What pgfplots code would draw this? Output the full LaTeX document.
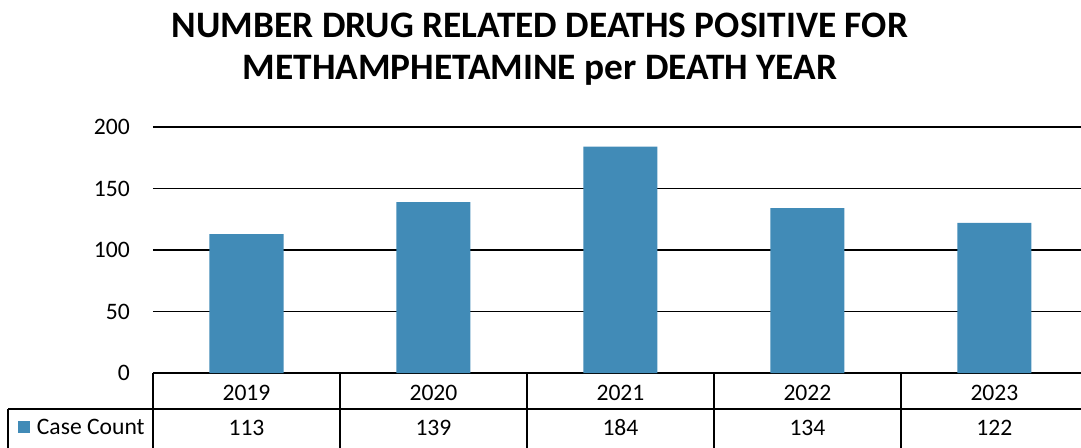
\documentclass[border=0pt]{standalone}
\usepackage{fontspec}
\setmainfont{Carlito}
\usepackage{pgfplots}
\usepackage{pgfplotstable}
\pgfplotsset{compat=1.18}
\definecolor{barblue}{RGB}{65,139,183}

\pgfplotstableread{
idx year count
0 2019 113
1 2020 139
2 2021 184
3 2022 134
4 2023 122
}\deathdata

\begin{document}
\begin{tikzpicture}
\begin{axis}[
  at={(0,0)}, anchor=south west, scale only axis,
  width=696pt, height=184.5pt,
  xmin=-0.5, xmax=4.463, ymin=0, ymax=200,
  ytick={0,50,...,200}, xtick=data,
  xticklabels from table={\deathdata}{year},
  ymajorgrids, grid style={black, line width=1pt},
  axis x line=bottom, axis y line=left,
  y axis line style={draw=none},
  x axis line style={-, line width=1pt},
  major tick length=0pt,
  tick label style={font=\fontsize{17.7}{21}\selectfont},
  xticklabel style={anchor=center, yshift=-14.6pt},
  yticklabel style={anchor=east, inner sep=0pt, xshift=-17.25pt},
  /pgf/number format/assume math mode=true,
  clip=false,
  title={NUMBER DRUG RELATED DEATHS POSITIVE FOR\\METHAMPHETAMINE per DEATH YEAR},
  title style={at={(axis description cs:0.417,1.284)}, anchor=center, align=center,
    font=\bfseries\fontsize{28}{32}\selectfont},
  legend style={at={(axis description cs:-0.1455,-0.2215)}, anchor=west, inner sep=0pt,
    draw=none, fill=none, font=\fontsize{17.7}{21}\selectfont},
  legend image code/.code={\fill[barblue] (0pt,-4.5pt) rectangle (9pt,4.5pt);
    \path (12pt,0pt);},
]
\addplot[ybar, fill=barblue, draw=none, bar width=0.396] table[x=idx, y=count]{\deathdata};
\addlegendentry{Case Count}
\addplot[forget plot, draw=none, mark=none, nodes near coords, point meta=explicit symbolic,
  nodes near coords style={anchor=center, font=\fontsize{17.7}{21}\selectfont}]
  table[x=idx, y expr=-44.3, meta=count]{\deathdata};
% data table grid
\draw[line width=1pt] (axis cs:-1.275,-29.3) -- (axis cs:4.463,-29.3);
\draw[line width=1pt] (axis cs:-1.275,-29.3) -- (axis cs:-1.275,-80);
\pgfplotsinvokeforeach{-0.5,0.5,1.5,2.5,3.5}{
  \draw[line width=1pt] (axis cs:#1,0) -- (axis cs:#1,-80);
}
\end{axis}
\pgfresetboundingbox
\path[use as bounding box] (-114.75pt,-55.5pt) rectangle (696pt,279.75pt);
\end{tikzpicture}
\end{document}
